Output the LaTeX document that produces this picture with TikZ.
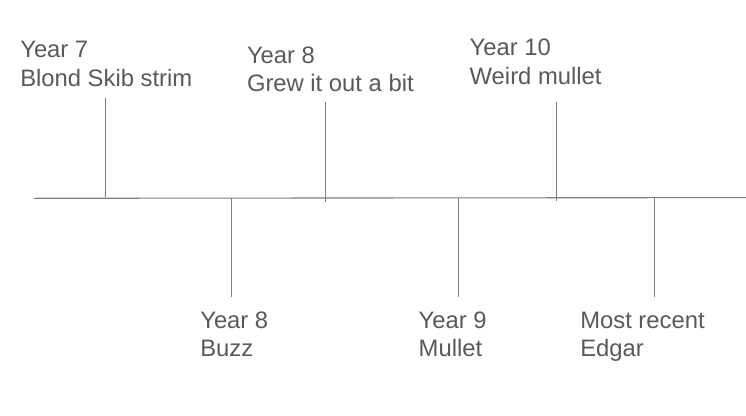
\documentclass[tikz,border=0pt]{standalone}
\usepackage{fontspec}
\setmainfont{Liberation Sans}
\definecolor{linegray}{HTML}{7E7E7E}
\definecolor{textgray}{HTML}{595959}
\begin{document}
\begin{tikzpicture}[x=1pt,y=-1pt,
  lbl/.style={anchor=base west, inner sep=0pt, outer sep=0pt, text=textgray, font=\fontsize{23.8}{29}\selectfont},
  tick/.style={draw=linegray, line width=1pt},
  axis/.style={draw=linegray, line width=1.1pt}]
\useasboundingbox (0,0) rectangle (746,415);
% main line
\coordinate (L) at (34,198.3);
\coordinate (R) at (746,197.6);
\draw[axis] (L) -- (R);
% ticks
\coordinate (t1a) at (105,97.5);  \coordinate (t1b) at (105,197);
\coordinate (t2a) at (231.8,197.5); \coordinate (t2b) at (231.8,296.7);
\coordinate (t3a) at (325.5,102.3); \coordinate (t3b) at (325.5,201.5);
\coordinate (t4a) at (458.3,197.5); \coordinate (t4b) at (458.3,296.7);
\coordinate (t5a) at (556,102.3); \coordinate (t5b) at (556,201);
\coordinate (t6a) at (654.3,197.5); \coordinate (t6b) at (654.3,296.7);
\draw[tick] (t1a) -- (t1b);
\draw[tick] (t2a) -- (t2b);
\draw[tick] (t3a) -- (t3b);
\draw[tick] (t4a) -- (t4b);
\draw[tick] (t5a) -- (t5b);
\draw[tick] (t6a) -- (t6b);
% labels above
\node[lbl] (y7) at (20.3,57.3) {Year 7};
\node[lbl] (d7) at ([yshift=-29.2pt]y7.base west) {Blond Skib strim};
\node[lbl] (y8a) at (247,63.3) {Year 8};
\node[lbl] (d8a) at ([yshift=-28.6pt]y8a.base west) {Grew it out a bit};
\node[lbl] (y10) at (469.7,55) {Year 10};
\node[lbl] (d10) at ([yshift=-29pt]y10.base west) {Weird mullet};
% labels below
\node[lbl] (y8b) at (200.3,328.3) {Year 8};
\node[lbl] (d8b) at ([yshift=-28.4pt]y8b.base west) {Buzz};
\node[lbl] (y9) at (418.7,328.3) {Year 9};
\node[lbl] (d9) at ([yshift=-28.4pt]y9.base west) {Mullet};
\node[lbl] (yr) at (580.3,328.3) {Most recent};
\node[lbl] (dr) at ([yshift=-28.4pt]yr.base west) {Edgar};
\end{tikzpicture}
\end{document}
